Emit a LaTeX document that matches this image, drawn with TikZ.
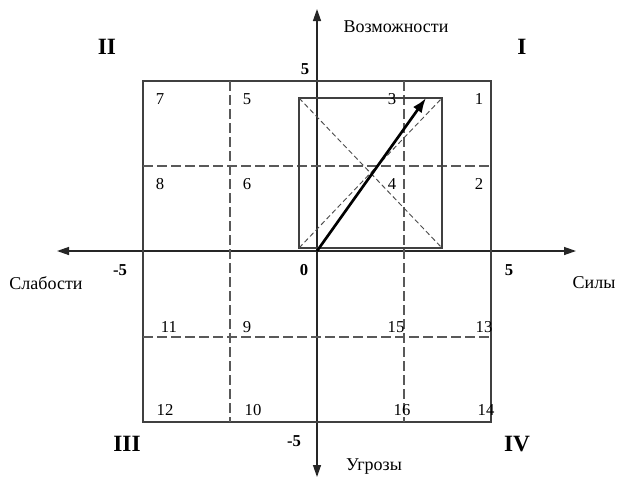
\documentclass[tikz,border=0pt]{standalone}
\usepackage{fontspec}
\setmainfont{Liberation Serif}
\usetikzlibrary{arrows.meta}
\begin{document}
\begin{tikzpicture}[x=0.75pt,y=-0.75pt,
  axis/.style={line width=1pt,draw=black!85,-{Triangle[length=9pt,width=6pt]}},
  frame/.style={line width=0.8pt,draw=black!75},
  grid/.style={line width=0.9pt,draw=black!65,dash pattern=on 7.5pt off 3pt},
  diag/.style={line width=0.7pt,draw=black!70,dash pattern=on 3.75pt off 2.25pt},
  vec/.style={line width=2pt,-{Latex[length=11pt,width=8pt]}},
  num/.style={font=\fontsize{12.5}{13}\selectfont,inner sep=0pt},
  lab/.style={font=\fontsize{13.5}{14}\selectfont,inner sep=0pt},
  bnum/.style={font=\bfseries\fontsize{12.5}{13}\selectfont,inner sep=0pt},
  roman/.style={font=\bfseries\fontsize{17.5}{18}\selectfont,inner sep=0pt}]
\useasboundingbox (0,0) rectangle (634,479);
% axes
\coordinate (L) at (57,251);
\coordinate (R) at (576,251);
\coordinate (T) at (317,9);
\coordinate (B) at (317,477);
\coordinate (O) at (317,251);
\draw[axis] (O) -- (L);
\draw[axis] (O) -- (R);
\draw[axis] (O) -- (T);
\draw[axis] (O) -- (B);
% outer frame
\coordinate (F1) at (143,81);
\coordinate (F2) at (491,422);
\draw[frame] (F1) rectangle (F2);
% grid lines
\coordinate (g1t) at (230,81); \coordinate (g1b) at (230,422);
\coordinate (g2t) at (404,81); \coordinate (g2b) at (404,422);
\coordinate (h1l) at (143,166); \coordinate (h1r) at (491,166);
\coordinate (h2l) at (143,337); \coordinate (h2r) at (491,337);
\draw[grid] (g1t) -- (g1b);
\draw[grid] (g2t) -- (g2b);
\draw[grid] (h1l) -- (h1r);
\draw[grid] (h2l) -- (h2r);
% inner rectangle
\coordinate (A) at (299,98);
\coordinate (C) at (442,248);
\coordinate (A2) at (299,248);
\coordinate (C2) at (442,98);
\draw[frame] (A) rectangle (C);
\draw[diag] (A) -- (C);
\draw[diag] (A2) -- (C2);
% vector
\coordinate (V) at (426,98);
\draw[vec] (O) -- (V);
% axis labels
\node[lab] (vz) at (396,27) {Возможности};
\node[lab] (ug) at (374,467) {Угрозы};
\node[lab] (si) at (594,283) {Силы};
\node[lab] (sl) at (46,283) {Слабости};
\node[bnum] (m5x) at (120,270) {-5};
\node[bnum] (z0) at (304,270) {0};
\node[bnum] (p5x) at (509,270) {5};
\node[bnum] (p5y) at (305,69) {5};
\node[bnum] (m5y) at (294,441) {-5};
% quadrants
\node[roman] (q2) at (107,47) {II};
\node[roman] (q1) at (522,47) {I};
\node[roman] (q3) at (127,444) {III};
\node[roman] (q4) at (517,444) {IV};
% cell numbers
\node[num] (n7) at (160,99) {7};
\node[num] (n5) at (247,99) {5};
\node[num] (n3) at (392,99) {3};
\node[num] (n1) at (479,99) {1};
\node[num] (n8) at (160,184) {8};
\node[num] (n6) at (247,184) {6};
\node[num] (n4) at (392,184) {4};
\node[num] (n2) at (479,184) {2};
\node[num] (n11) at (169,327) {11};
\node[num] (n9) at (247,327) {9};
\node[num] (n15) at (396,327) {15};
\node[num] (n13) at (484,327) {13};
\node[num] (n12) at (165,410) {12};
\node[num] (n10) at (253,410) {10};
\node[num] (n16) at (402,410) {16};
\node[num] (n14) at (486,410) {14};
\end{tikzpicture}
\end{document}
